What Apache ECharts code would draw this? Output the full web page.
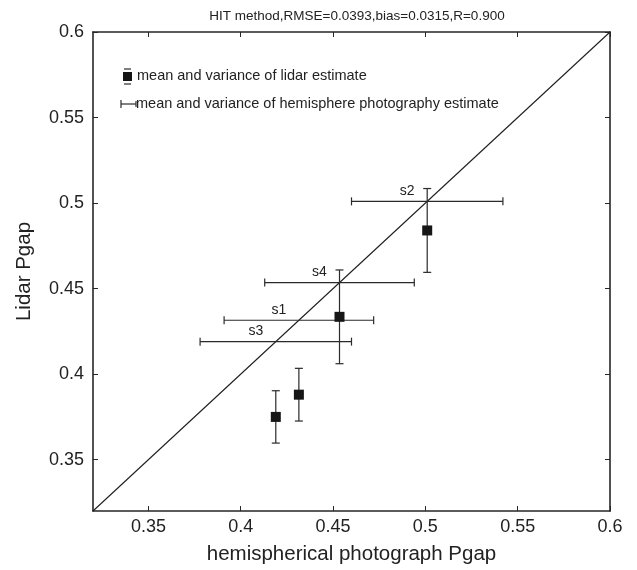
<!DOCTYPE html>
<html>
<head>
<meta charset="utf-8">
<script src="https://cdn.jsdelivr.net/npm/echarts@6/dist/echarts.min.js"></script>
<style>html,body{margin:0;padding:0;background:#fff}#c{width:637px;height:570px}</style>
</head>
<body>
<div id="c"></div>
<script>
const samples = ['s1', 's2', 's3', 's4'];
const hemiMean = [0.4315, 0.501, 0.419, 0.4535];
const hemiErr = [0.0405, 0.041, 0.041, 0.0405];
const lidarMean = [0.388, 0.484, 0.375, 0.4335];
const lidarErr = [0.0154, 0.0245, 0.0153, 0.0274];
const tickValues = [0.35, 0.4, 0.45, 0.5, 0.55, 0.6];
const oneToOne = [[0.32, 0.32], [0.6, 0.6]];

const FONT = 'Liberation Sans, Arial, sans-serif';
const INK = '#1e1e1e';

const chart = echarts.init(document.getElementById('c'), null, {renderer: 'canvas'});

const vData = samples.map((s, i) => [hemiMean[i], lidarMean[i], lidarMean[i] - lidarErr[i], lidarMean[i] + lidarErr[i]]);
const hData = samples.map((s, i) => [hemiMean[i] - hemiErr[i], hemiMean[i] + hemiErr[i], hemiMean[i], s]);
const pts = samples.map((s, i) => [hemiMean[i], lidarMean[i]]);

function fmt(v) { return String(+v.toFixed(2)); }

function baseAxis(extra) {
  return Object.assign({
    type: 'value', min: 0.32, max: 0.6,
    axisLine: {show: true, onZero: false, lineStyle: {color: '#262626', width: 1.6}},
    axisTick: {show: true, inside: true, length: 5, customValues: tickValues, lineStyle: {color: '#262626', width: 1}},
    splitLine: {show: false},
    axisLabel: {show: false}
  }, extra);
}

const option = {
  animation: false,
  backgroundColor: '#fff',
  title: {
    text: 'HIT method,RMSE=0.0393,bias=0.0315,R=0.900',
    left: 352, top: 4, textAlign: 'center',
    textStyle: {fontSize: 13.5, fontWeight: 'normal', color: '#222', fontFamily: FONT}
  },
  grid: {left: 93, right: 27, top: 32, bottom: 58, containLabel: false},
  xAxis: [
    baseAxis({position: 'bottom', name: 'hemispherical photograph Pgap', nameLocation: 'middle', nameGap: 33,
      nameTextStyle: {fontSize: 20.5, color: '#222', fontFamily: FONT},
      axisLabel: {show: true, customValues: tickValues, margin: 7, color: '#222', fontSize: 18, fontFamily: FONT, formatter: fmt}}),
    baseAxis({position: 'top'})
  ],
  yAxis: [
    baseAxis({position: 'left', name: 'Lidar Pgap', nameLocation: 'middle', nameGap: 58,
      nameTextStyle: {fontSize: 20.5, color: '#222', fontFamily: FONT},
      axisLabel: {show: true, customValues: tickValues, margin: 9, color: '#222', fontSize: 18, fontFamily: FONT, formatter: fmt}}),
    baseAxis({position: 'right'})
  ],
  series: [
    {
      type: 'line', data: oneToOne, symbol: 'none', silent: true,
      lineStyle: {color: INK, width: 1.1}, z: 2
    },
    {
      type: 'custom', data: hData, z: 3,
      renderItem: function (params, api) {
        const a = api.coord([api.value(0), api.value(2)]);
        const b = api.coord([api.value(1), api.value(2)]);
        const c = api.coord([api.value(2), api.value(2)]);
        const st = {stroke: '#2a2a2a', lineWidth: 1.2};
        return {type: 'group', children: [
          {type: 'line', shape: {x1: a[0], y1: a[1], x2: b[0], y2: b[1]}, style: st},
          {type: 'line', shape: {x1: a[0], y1: a[1] - 4, x2: a[0], y2: a[1] + 4}, style: st},
          {type: 'line', shape: {x1: b[0], y1: b[1] - 4, x2: b[0], y2: b[1] + 4}, style: st},
          {type: 'text', style: {text: samples[params.dataIndex], x: c[0] - 20, y: c[1] - 10, textAlign: 'center', textVerticalAlign: 'middle', fontSize: 14, fontFamily: FONT, fill: '#222'}}
        ]};
      }
    },
    {
      type: 'custom', data: vData, z: 3,
      renderItem: function (params, api) {
        const lo = api.coord([api.value(0), api.value(2)]);
        const hi = api.coord([api.value(0), api.value(3)]);
        const st = {stroke: '#2a2a2a', lineWidth: 1.2};
        return {type: 'group', children: [
          {type: 'line', shape: {x1: lo[0], y1: lo[1], x2: hi[0], y2: hi[1]}, style: st},
          {type: 'line', shape: {x1: lo[0] - 4, y1: lo[1], x2: lo[0] + 4, y2: lo[1]}, style: st},
          {type: 'line', shape: {x1: hi[0] - 4, y1: hi[1], x2: hi[0] + 4, y2: hi[1]}, style: st}
        ]};
      }
    },
    {
      type: 'scatter', data: pts, symbol: 'rect', symbolSize: 10, z: 4,
      itemStyle: {color: '#161616', opacity: 1}
    }
  ],
  graphic: [
    {type: 'line', shape: {x1: 124, y1: 69, x2: 131, y2: 69}, style: {stroke: '#2a2a2a', lineWidth: 1.2}},
    {type: 'rect', shape: {x: 123, y: 72, width: 9, height: 9}, style: {fill: '#161616'}},
    {type: 'line', shape: {x1: 124, y1: 84, x2: 131, y2: 84}, style: {stroke: '#2a2a2a', lineWidth: 1.2}},
    {type: 'text', style: {text: 'mean and variance of lidar estimate', x: 137, y: 76, textVerticalAlign: 'middle', fontSize: 14.5, fontFamily: FONT, fill: '#222'}},
    {type: 'line', shape: {x1: 121, y1: 104, x2: 136, y2: 104}, style: {stroke: '#2a2a2a', lineWidth: 1.2}},
    {type: 'line', shape: {x1: 121, y1: 100, x2: 121, y2: 108}, style: {stroke: '#2a2a2a', lineWidth: 1.2}},
    {type: 'line', shape: {x1: 136, y1: 101, x2: 136, y2: 107}, style: {stroke: '#2a2a2a', lineWidth: 1.2}},
    {type: 'text', style: {text: 'mean and variance of hemisphere photography estimate', x: 136, y: 104, textVerticalAlign: 'middle', fontSize: 14.5, fontFamily: FONT, fill: '#222'}}
  ]
};
chart.setOption(option);
</script>
</body>
</html>
